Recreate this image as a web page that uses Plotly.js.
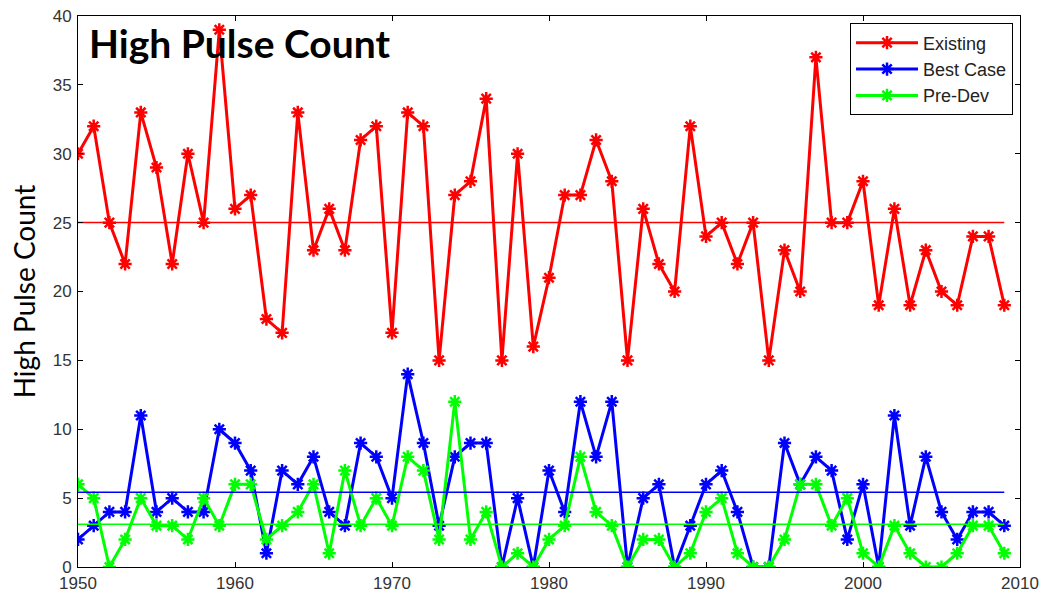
<!DOCTYPE html>
<html>
<head>
<meta charset="utf-8">
<script src="https://cdn.plot.ly/plotly-3.0.1.min.js"></script>
<style>html,body{margin:0;padding:0;background:#fff;}#chart{width:1043px;height:593px;}</style>
</head>
<body>
<div id="chart"></div>
<script>
var years = [];
for (var yr = 1950; yr <= 2009; yr++) years.push(yr);

var existing = [30,32,25,22,33,29,22,30,25,39,
                26,27,18,17,33,23,26,23,31,32,
                17,33,32,15,27,28,34,15,30,16,
                21,27,27,31,28,15,26,22,20,32,
                24,25,22,25,15,23,20,37,25,25,
                28,19,26,19,23,20,19,24,24,19];
var bestCase = [2,3,4,4,11,4,5,4,4,10,
                9,7,1,7,6,8,4,3,9,8,
                5,14,9,3,8,9,9,0,5,0,
                7,4,12,8,12,0,5,6,0,3,
                6,7,4,0,0,9,6,8,7,2,
                6,0,11,3,8,4,2,4,4,3];
var preDev = [6,5,0,2,5,3,3,2,5,3,
              6,6,2,3,4,6,1,7,3,5,
              3,8,7,2,12,2,4,0,1,0,
              2,3,8,4,3,0,2,2,0,1,
              4,5,1,0,0,2,6,6,3,5,
              1,0,3,1,0,0,1,3,3,1];
var seriesNames = ['Existing','Best Case','Pre-Dev'];
var seriesColors = ['#ff0000','#0000ff','#00ff00'];
var xTicks = [1950,1960,1970,1980,1990,2000,2010];
var yTicks = [0,5,10,15,20,25,30,35,40];

function mean(a){var s=0;for(var i=0;i<a.length;i++)s+=a[i];return s/a.length;}

var data = [];
var allSeries = [existing, bestCase, preDev];
allSeries.forEach(function(vals, i){
  data.push({
    x: years, y: vals, type: 'scatter', mode: 'lines+markers',
    name: seriesNames[i],
    line: {color: seriesColors[i], width: 3},
    marker: {symbol: 'asterisk-open', size: 11, color: seriesColors[i], line: {color: seriesColors[i], width: 2.5}}
  });
});
allSeries.forEach(function(vals, i){
  var m = mean(vals);
  data.push({
    x: [years[0], years[years.length-1]], y: [m, m], type: 'scatter', mode: 'lines',
    showlegend: false, hoverinfo: 'skip',
    line: {color: seriesColors[i], width: 1.5}
  });
});

var tickFont = {family: 'Liberation Sans, Arial, sans-serif', size: 17, color: '#333'};
var layout = {
  width: 1043, height: 593,
  margin: {l: 78, r: 23, t: 16, b: 26},
  paper_bgcolor: '#fff', plot_bgcolor: '#fff',
  showlegend: true,
  title: {
    text: '<b>High Pulse Count</b>',
    font: {family: 'Lato, Liberation Sans, sans-serif', size: 39, color: '#000'},
    x: 89/1043, xanchor: 'left', xref: 'container',
    y: 1 - 44/593, yanchor: 'middle', yref: 'container'
  },
  xaxis: {
    range: [1950, 2010], tickvals: xTicks, ticktext: xTicks.map(String),
    ticks: 'inside', ticklen: 5, tickcolor: '#000', tickwidth: 1,
    showline: true, linecolor: '#000', linewidth: 1, mirror: 'ticks',
    showgrid: false, zeroline: false, tickfont: tickFont, ticklabelstandoff: 1
  },
  yaxis: {
    range: [0, 40], tickvals: yTicks, ticktext: yTicks.map(String),
    ticks: 'inside', ticklen: 5, tickcolor: '#000', tickwidth: 1,
    showline: true, linecolor: '#000', linewidth: 1, mirror: 'ticks',
    showgrid: false, zeroline: false, tickfont: tickFont, ticklabelstandoff: 2,
    title: {text: 'High Pulse Count', font: {family: 'Lato, Liberation Sans, sans-serif', size: 28, color: '#000'}, standoff: 8}
  },
  legend: {
    x: 0.9926, y: 0.9865, xanchor: 'right', yanchor: 'top',
    bgcolor: '#fff', bordercolor: '#000', borderwidth: 1,
    font: {family: 'Liberation Sans, Arial, sans-serif', size: 18, color: '#222'},
    itemwidth: 62, tracegroupgap: 0
  }
};

Plotly.newPlot('chart', data, layout, {displayModeBar: false, staticPlot: true});
</script>
</body>
</html>
